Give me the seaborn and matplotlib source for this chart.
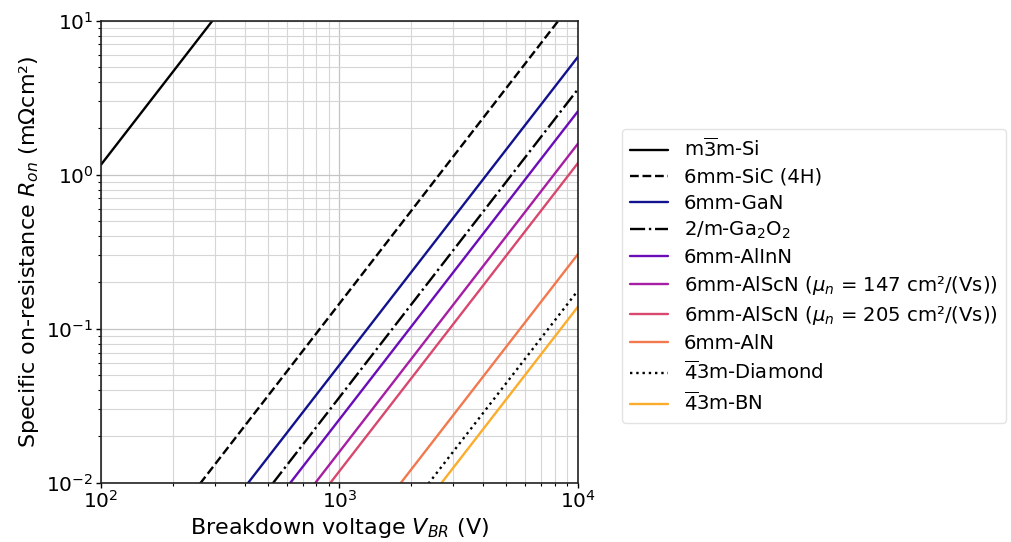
import numpy as np
import pandas as pd
import matplotlib
matplotlib.use("Agg")
import matplotlib.pyplot as plt
import seaborn as sns

# Breakdown voltage span (V) and specific on-resistance (mOhm cm^2) at both ends
v_ends = [1e2, 1e4]

materials = [
    r"m$\overline{3}$m-Si",
    "6mm-SiC (4H)",
    "6mm-GaN",
    r"2/m-Ga$_2$O$_2$",
    "6mm-AlInN",
    r"6mm-AlScN ($\mu_n$ = 147 cm²/(Vs))",
    r"6mm-AlScN ($\mu_n$ = 205 cm²/(Vs))",
    "6mm-AlN",
    r"$\overline{4}$3m-Diamond",
    r"$\overline{4}$3m-BN",
]

r_at_100v = [1.16, 1.457e-3, 5.82e-4, 3.59e-4, 2.58e-4, 1.59e-4, 1.19e-4, 3.05e-5, 1.77e-5, 1.39e-5]
r_at_10kv = [1.16e4, 14.57, 5.82, 3.59, 2.58, 1.59, 1.19, 0.305, 0.177, 0.139]

line_colors = ["black", "black", "#12128f", "black", "#6a0cb8",
               "#a61ea3", "#d9486e", "#f2784e", "black", "#fbad2b"]
line_styles = ["-", "--", "-", "-.", "-", "-", "-", "-", ":", "-"]

sns.set_theme(style="ticks")
plt.rcParams["font.family"] = ["DejaVu Sans"]
plt.rcParams.update({"text.color": "black", "axes.labelcolor": "black",
                     "xtick.color": "black", "ytick.color": "black"})

fig = plt.figure(figsize=(10.11, 5.42), dpi=100)
ax = fig.add_axes([0.0999, 0.1094, 0.4718, 0.8526])

for name, r0, r1, c, ls in zip(materials, r_at_100v, r_at_10kv, line_colors, line_styles):
    df = pd.DataFrame({"V": v_ends, "R": [r0, r1]})
    sns.lineplot(data=df, x="V", y="R", ax=ax, color=c, linestyle=ls,
                 linewidth=1.7, label=name, estimator=None, sort=False)

ax.set_xscale("log")
ax.set_yscale("log")
ax.set_xlim(1e2, 1e4)
ax.set_ylim(1e-2, 1e1)

ax.grid(True, which="major", color="#c4c4c4", linewidth=0.9)
ax.grid(True, which="minor", color="#d6d6d6", linewidth=0.8)
ax.set_axisbelow(True)

ax.tick_params(axis="both", which="major", labelsize=14.5, length=3.5, width=1, pad=2)
ax.tick_params(axis="both", which="minor", length=2, width=0.8)
for s in ax.spines.values():
    s.set_color("#222222")
    s.set_linewidth(1.2)

ax.set_xlabel(r"Breakdown voltage $V_{BR}$ (V)", fontsize=16, labelpad=3)
ax.set_ylabel(r"Specific on-resistance $R_{on}$ (mΩcm²)", fontsize=16, labelpad=4)

leg = ax.legend(loc="center left", bbox_to_anchor=(1.092, 0.448), fontsize=14.1,
                frameon=True, handlelength=1.95, handletextpad=0.8,
                labelspacing=0.36, borderpad=0.42, borderaxespad=0.0,
                fancybox=True)
leg.get_frame().set_edgecolor("#dddddd")

fig.savefig("out.png", dpi=100)
